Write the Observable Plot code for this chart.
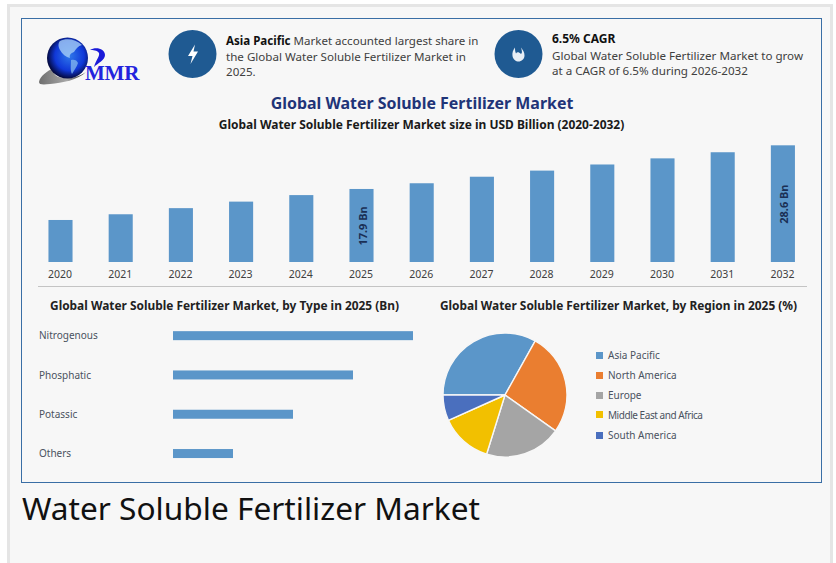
<!DOCTYPE html>
<html><head><meta charset="utf-8">
<script src="https://cdn.jsdelivr.net/npm/d3@7"></script>
<script src="https://cdn.jsdelivr.net/npm/@observablehq/plot@0.6"></script>
<style>
html,body{margin:0;padding:0;background:#fff;width:836px;height:563px;overflow:hidden}
#page{position:absolute;left:0;top:0;width:836px;height:563px;font-family:"Noto Sans",sans-serif;overflow:hidden}
#page>*{position:absolute}
.t{white-space:nowrap;line-height:1}
#page svg.plot{left:0;background:transparent}
</style></head><body><div id="page"></div>
<script>
const years=["2020","2021","2022","2023","2024","2025","2026","2027","2028","2029","2030","2031","2032"];
const sizes=[10.3,11.7,13.2,14.8,16.4,17.9,19.3,20.9,22.4,23.9,25.4,26.9,28.6];
const barLabels={"2025":"17.9 Bn","2032":"28.6 Bn"};
const types=["Nitrogenous","Phosphatic","Potassic","Others"];
const typeValues=[7.2,5.4,3.6,1.8];
const regions=["Asia Pacific","North America","Europe","Middle East and Africa","South America"];
const regionShares=[33.1,26.7,20,13.5,6.7];
const regionColors=["#5b96c9","#ea7e30","#a5a5a5","#f2c000","#4a6fbe"];
const barColor="#5b96c9";
const font='"Noto Sans",sans-serif';
const page=document.getElementById("page");
function box(l,t,w,h,css){const d=document.createElement("div");d.style.cssText=`left:${l}px;top:${t}px;width:${w}px;height:${h}px;${css}`;page.appendChild(d);return d;}
function text(str,x,yc,size,css,anchor){const d=document.createElement("div");d.className="t";d.innerHTML=str;
 d.style.cssText=`left:${x}px;top:${yc}px;font-size:${size}px;transform:translate(${anchor==="middle"?"-50%":"0"},-50%);${css||""}`;page.appendChild(d);return d;}
box(0,0,836,563,"background:#fff");
box(7,4,826,559,"background:#f7f7f7;border:3px solid #e5e5e5;border-bottom:none;box-sizing:border-box");
box(21,18,801,465,"border:1px solid #3a6ea5;box-sizing:border-box");
const art=document.createElementNS("http://www.w3.org/2000/svg","svg");
art.setAttribute("width",836);art.setAttribute("height",120);art.style.cssText="left:0;top:0";
art.innerHTML=`<defs><radialGradient id="g" cx="55%" cy="45%" r="55%"><stop offset="0" stop-color="#2f78ea"/><stop offset=".65" stop-color="#1038d8"/><stop offset="1" stop-color="#040a40"/></radialGradient>
<linearGradient id="sw" x1="0" x2="1"><stop offset="0" stop-color="#6f6f6f"/><stop offset=".6" stop-color="#a8a8a8"/><stop offset="1" stop-color="#222"/></linearGradient></defs>
<path d="M39 82C40 76 47 71 54 68C52 74 56 78 66 78C74 78 80 76 86 72C78 80 62 83 50 84C44 84.500 39 85 39 82Z" fill="url(#sw)"/>
<circle cx="67.500" cy="58" r="20.500" fill="url(#g)"/>
<path d="M60 41C66 38 76 39 82 45C78 46 76 49 74 52C71 53 69 55 70 58C66 57 62 54 60 50C58 47 58 43 60 41Z" fill="#a5cdf5" opacity=".8"/>
<path d="M71 60C74 59 77 60 78 63C77 67 74 70 72 74C70 70 71 65 71 60Z" fill="#7fb4ee" opacity=".8"/>
<path d="M90 50C96 46 105 49 105 55C105 60 98 63 94 67C96 60 100 56 99 53C97 50 93 50 90 50Z" fill="#1a1ad8"/>
<circle cx="192.500" cy="54" r="24" fill="#1f5a92"/>
<path d="M195 44.500L188 56H192.500L190.500 64L198 51.500H193.500Z" fill="#fff"/>
<circle cx="518.500" cy="54" r="24" fill="#1f5a92"/>
<path d="M515 47.500C513 50 512 53 512.500 56C513 59.500 516 61.500 518.500 61.500C521.500 61.500 524.500 59 524.500 55.500C524.500 52.500 523 50 521 47.500C522 51 522.500 53 521 54C519 52 517 51.500 516 53.500C515 51.500 515 49.500 515 47.500Z" fill="#e8eef5"/>
<path d="M518 54C516 55.500 515.500 57 516.500 58.500C518 57.500 519 56 518 54Z" fill="#e8eef5" opacity=".8"/>`;
page.appendChild(art);
text("MMR",85,72.5,21,'font-family:"Liberation Serif",serif;font-weight:700;color:#2323dd;letter-spacing:-.2px');
const body="color:#404040";
text('<b style="color:#111">Asia Pacific</b> Market accounted largest share in',226,40.5,11.55,body);
text("the Global Water Soluble Fertilizer Market in",226,56.5,11.6,body);
text("2025.",226,71.5,11.6,body);
text("6.5% CAGR",552,38.5,12,"font-weight:700;color:#111");
text("Global Water Soluble Fertilizer Market to grow",552,56,11.62,body);
text("at a CAGR of 6.5% during 2026-2032",552,71,11.62,body);
text("Global Water Soluble Fertilizer Market",422,103.5,15.95,"font-weight:700;color:#1f3478","middle");
text("Global Water Soluble Fertilizer Market size in USD Billion (2020-2032)",421.5,124.5,11.97,"font-weight:700;color:#1a1a1a","middle");
text("Global Water Soluble Fertilizer Market, by Type in 2025 (Bn)",224.5,306,11.9,"font-weight:700;color:#222","middle");
text("Global Water Soluble Fertilizer Market, by Region in 2025 (%)",618.5,306,11.9,"font-weight:700;color:#222","middle");
text("Water Soluble Fertilizer Market",22,508,31.65,"color:#111");
box(38,286,769,1,"background:#c4c4c4");

const yearly=years.map((y,i)=>({year:y,size:sizes[i],label:barLabels[y]}));
const chart=Plot.plot({width:836,height:300,marginLeft:30.4,marginRight:23,marginTop:139.6,marginBottom:38,
 style:{fontFamily:font,background:"transparent"},
 x:{type:"band",domain:years,paddingInner:.6,paddingOuter:.3,round:false,label:null},
 y:{domain:[0,30],axis:null},
 marks:[
  Plot.barY(yearly,{x:"year",y:"size",fill:barColor}),
  Plot.axisX({tickSize:0,tickPadding:8,fontSize:10.5,color:"#404040",label:null,dx:-1}),
  Plot.text(yearly.filter(d=>d.label),{x:"year",y:d=>d.size/2,text:"label",rotate:-90,fontWeight:700,fontSize:11,fill:"#1a2f55",dx:1})
 ]});
chart.classList.add("plot");chart.style.top="0";page.appendChild(chart);

const byType=types.map((t,i)=>({type:t,value:typeValues[i]}));
const typeChart=Plot.plot({width:836,height:158,marginLeft:173,marginRight:423,marginTop:0,marginBottom:.8,
 style:{fontFamily:font,background:"transparent"},
 x:{domain:[0,7.2],axis:null},
 y:{type:"band",domain:types,paddingInner:.771,paddingOuter:.386,round:false,label:null,axis:null},
 marks:[
  Plot.barX(byType,{y:"type",x:"value",fill:barColor}),
  Plot.axisY({tickSize:0,tickPadding:134.500,textAnchor:"start",fontSize:10,color:"#4a5260",label:null})
 ]});
typeChart.classList.add("plot");typeChart.style.top="316px";page.appendChild(typeChart);

const slices=regions.map((r,i)=>({region:r,share:regionShares[i]}));
const pieMark=(index,{color},values,{width,height})=>{
 const g=d3.create("svg:g").attr("transform",`translate(${width/2},${height/2})`);
 const arcs=d3.pie().sort(null).value(d=>d.share).startAngle(-Math.PI/2).endAngle(1.5*Math.PI)(slices);
 g.selectAll("path").data(arcs).join("path").attr("d",d3.arc().innerRadius(0).outerRadius(62))
  .attr("fill",d=>color(d.data.region)).attr("stroke","#f7f7f7").attr("stroke-width",1.4);
 return g.node();
};
const pie=Plot.plot({width:140,height:140,margin:0,style:{background:"transparent"},
 x:{axis:null},y:{axis:null},
 color:{domain:regions,range:regionColors},
 marks:[pieMark]});
pie.classList.add("plot");pie.style.cssText+=";left:435px;top:325px";page.appendChild(pie);

const legendY=[355,375,395,414.5,435];
regions.forEach((r,i)=>{
 box(596,legendY[i]-3.5,7,7,`background:${regionColors[i]}`);
 text(r,608,legendY[i],10,"color:#4a5260"+(r.length>15?";letter-spacing:-.45px":""));
});
</script></body></html>
